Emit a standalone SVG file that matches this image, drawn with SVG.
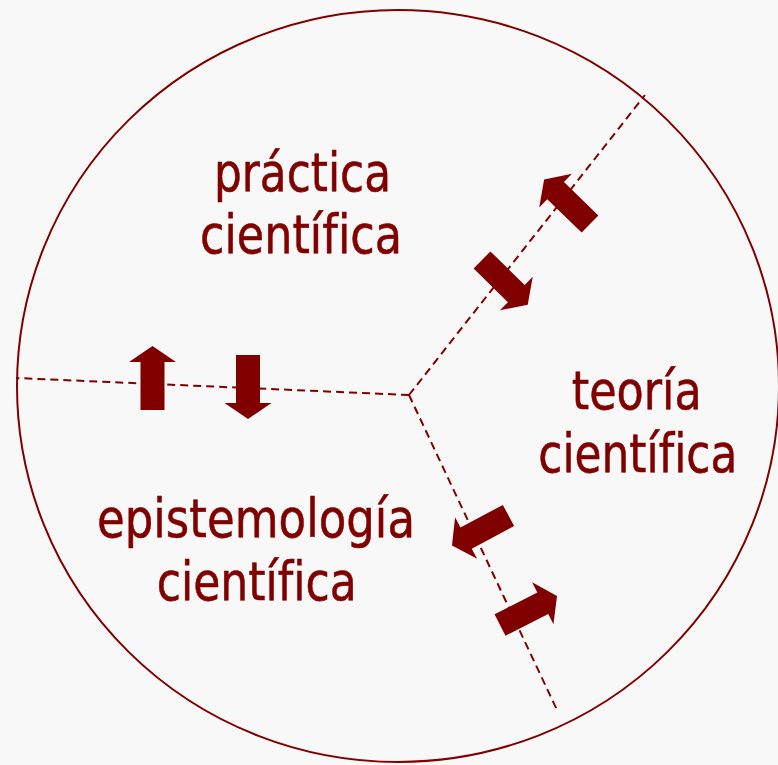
<svg xmlns="http://www.w3.org/2000/svg" width="778" height="765" viewBox="0 0 778 765">
<defs>
<style>
.lbl{font-family:"DejaVu Sans","Liberation Sans",sans-serif;font-size:54px;fill:#800000;stroke:#800000;stroke-width:0.6;text-anchor:middle;font-variant-ligatures:none;font-feature-settings:"liga" 0}
.dash{fill:none;stroke:#800000;stroke-width:2;stroke-dasharray:8 5}
.arr{fill:#800000}
</style>
<polygon id="blk" points="0,-12 48,-12 48,-23.5 64,0 48,23.5 48,12 0,12"/>
</defs>
<rect width="778" height="765" fill="#f8f8f8"/>
<ellipse cx="398" cy="386" rx="381" ry="376" fill="none" stroke="#800000" stroke-width="2"/>
<g id="connectors">
<path class="dash" d="M409,395 L16,378"/>
<path class="dash" d="M409,395 L645,95"/>
<path class="dash" d="M409,395 L557,710"/>
<use href="#blk" class="arr" transform="translate(152.5,410) rotate(-90)"/>
<use href="#blk" class="arr" transform="translate(248,355) rotate(90)"/>
<use href="#blk" class="arr" transform="translate(590,224) rotate(-135.8)"/>
<use href="#blk" class="arr" transform="translate(482,260) rotate(44.4)"/>
<use href="#blk" class="arr" transform="translate(508.5,515.5) rotate(152)"/>
<use href="#blk" class="arr" transform="translate(500,625) rotate(-27)"/>
</g>
<g id="practica">
<text class="lbl" x="302.5" y="191" textLength="177" lengthAdjust="spacingAndGlyphs">práctica</text>
<text class="lbl" x="301" y="253" textLength="202" lengthAdjust="spacingAndGlyphs">científica</text>
</g>
<g id="teoria">
<text class="lbl" x="636.7" y="408.5" textLength="130" lengthAdjust="spacingAndGlyphs">teoría</text>
<text class="lbl" x="637.8" y="471.5" textLength="199" lengthAdjust="spacingAndGlyphs">científica</text>
</g>
<g id="epistemologia">
<text class="lbl" x="256" y="537" textLength="318" lengthAdjust="spacingAndGlyphs">epistemología</text>
<text class="lbl" x="256.7" y="600" textLength="200" lengthAdjust="spacingAndGlyphs">científica</text>
</g>
</svg>
